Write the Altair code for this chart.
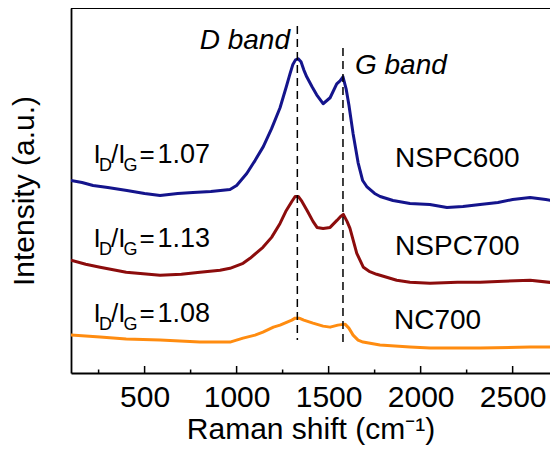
import altair as alt
import pandas as pd

# ---- spectra (x: Raman shift, y: intensity in arbitrary units) ----
nspc600_x = [100, 160, 220, 300, 404, 500, 584, 680, 763, 860, 964, 1000, 1055, 1100, 1145, 1190,
             1236, 1270, 1290, 1305, 1320, 1335, 1350, 1365, 1381, 1410, 1435, 1470, 1508, 1544,
             1562, 1578, 1595, 1610, 1633, 1660, 1685, 1707, 1750, 1780, 1850, 1942, 2050, 2143,
             2230, 2323, 2420, 2500, 2595, 2680, 2747]
nspc600_y = [193, 191, 188, 186, 183, 180, 178, 180, 181, 182, 184, 188, 200, 213, 227, 245,
             266, 287, 300, 309, 314, 315, 312, 304, 297, 287, 279, 270, 276, 290,
             293, 297, 285, 269, 240, 211, 193, 187, 180, 177, 173, 170, 169, 166,
             167, 169, 171, 174, 176, 174, 172]

nspc700_x = [100, 180, 258, 400, 584, 700, 801, 910, 964, 1035, 1073, 1143, 1190, 1236, 1270,
             1300, 1318, 1335, 1355, 1383, 1415, 1437, 1470, 1508, 1545, 1565, 1580, 1600, 1616,
             1653, 1689, 1720, 1761, 1870, 1942, 2051, 2200, 2323, 2450, 2595, 2747]
nspc700_y = [113, 109, 106, 101, 98, 99, 101, 103, 105, 110, 115, 126, 136, 150, 163,
             172, 177, 177, 172, 163, 152, 146, 145, 146, 153, 157, 159, 152, 145,
             120, 106, 102, 99, 93, 91, 90, 91, 91, 92, 93, 90]

nc700_x = [100, 258, 400, 584, 800, 910, 964, 1035, 1100, 1143, 1200, 1236, 1300, 1318, 1340,
           1365, 1415, 1470, 1508, 1550, 1589, 1610, 1633, 1660, 1687, 1779, 1942, 2051, 2323,
           2595, 2747]
nc700_y = [38, 36, 34, 33, 31, 31, 31, 35, 38, 41, 46, 48, 53, 55, 55,
           53, 50, 47, 46, 48, 49, 45, 38, 33, 31, 28, 26, 25, 25, 26, 26]

series_names = ["NSPC600", "NSPC700", "NC700"]
series_colors = ["#14148c", "#8c0c0c", "#ff8c10"]

# annotations
band_x = [1330, 1578]
band_top = [348, 326]
band_bottom = [33, 28]
band_labels = ["D band", "G band"]
band_label_x = [1290, 1643]
band_label_y = [325, 300]
band_label_align = ["right", "left"]

sample_label_x = [1861, 1861, 1855]
sample_label_y = [207, 118, 44]

ratio_values = ["1.07", "1.13", "1.08"]
ratio_x = [222, 222, 222]
ratio_y = [211, 126, 51]

major_ticks = [500, 1000, 1500, 2000, 2500]
minor_ticks = [250, 750, 1250, 1750, 2250]

X_DOMAIN = [100, 2703]
Y_DOMAIN = [0, 366]
W, H = 479, 365
FONT = "Liberation Sans"

rows = []
for name, xs_, ys_ in [("NSPC600", nspc600_x, nspc600_y),
                       ("NSPC700", nspc700_x, nspc700_y),
                       ("NC700", nc700_x, nc700_y)]:
    for a, b in zip(xs_, ys_):
        rows.append({"series": name, "v": a, "y": b})
spectra = pd.DataFrame(rows)

xs = alt.Scale(domain=X_DOMAIN, nice=False, zero=False)
ys = alt.Scale(domain=Y_DOMAIN, nice=False, zero=False)

x_axis = alt.Axis(values=major_ticks, format="d", ticks=False, tickSize=0, grid=False,
                  labelFontSize=30, labelPadding=9, labelColor="black",
                  labelFont=FONT, title="Raman shift (cm⁻¹)", titleFontSize=30,
                  titleFont=FONT, titleFontWeight="normal", titleColor="black",
                  titlePadding=2, domainColor="black", domainWidth=1.8)
y_axis = alt.Axis(labels=False, ticks=False, tickSize=0, grid=False,
                  title="Intensity (a.u.)", titleFontSize=30, titleFont=FONT,
                  titleFontWeight="normal", titleColor="black", titlePadding=32,
                  domainColor="black", domainWidth=1.8)


def X(field="v"):
    return alt.X(f"{field}:Q", scale=xs, axis=x_axis, title="Raman shift (cm⁻¹)")


def Y(field="y"):
    return alt.Y(f"{field}:Q", scale=ys, axis=y_axis, title="Intensity (a.u.)")


lines = alt.Chart(spectra).mark_line(strokeWidth=3, strokeJoin="round", clip=True).encode(
    x=X(), y=Y(),
    color=alt.Color("series:N", scale=alt.Scale(domain=series_names, range=series_colors),
                    legend=None),
    detail="series:N",
)

bands = pd.DataFrame({"v": band_x, "y": band_top, "y2": band_bottom})
dashes = alt.Chart(bands).mark_rule(color="black", strokeWidth=1.5, strokeDash=[8, 5]).encode(
    x=X(), y=Y(), y2="y2:Q",
)

band_txt_layers = []
for lab, bx, by, al in zip(band_labels, band_label_x, band_label_y, band_label_align):
    d = pd.DataFrame({"v": [bx], "y": [by], "t": [lab]})
    band_txt_layers.append(
        alt.Chart(d).mark_text(font=FONT, fontSize=28, fontStyle="italic", align=al,
                               baseline="alphabetic", color="black").encode(
            x=X(), y=Y(), text="t:N"))

samples = pd.DataFrame({"v": sample_label_x, "y": sample_label_y, "t": series_names})
sample_txt = alt.Chart(samples).mark_text(font=FONT, fontSize=28, align="left",
                                          baseline="alphabetic", color="black").encode(
    x=X(), y=Y(), text="t:N")

ratios = pd.DataFrame({"v": ratio_x, "y": ratio_y, "t": ratio_values})
pieces = [("I", 0, 0, 26), ("D", 5.5, 8, 18), ("/I", 17.5, 0, 26), ("G", 30, 8, 18),
          ("=", 46, 0, 26)]
ratio_layers = []
for txt, dx, dy, fs in pieces:
    ratio_layers.append(
        alt.Chart(ratios).mark_text(font=FONT, fontSize=fs, align="left", baseline="alphabetic",
                                    color="black", dx=dx, dy=dy).encode(
            x=X(), y=Y(), text=alt.value(txt)))
ratio_layers.append(
    alt.Chart(ratios).mark_text(font=FONT, fontSize=27, align="left", baseline="alphabetic",
                                color="black", dx=64).encode(
        x=X(), y=Y(), text="t:N"))

major = alt.Chart(pd.DataFrame({"v": major_ticks})).mark_rule(color="black", strokeWidth=1.5).encode(
    x=X(), y=alt.value(H), y2=alt.value(H - 7))
minor = alt.Chart(pd.DataFrame({"v": minor_ticks})).mark_rule(color="black", strokeWidth=1.5).encode(
    x=X(), y=alt.value(H), y2=alt.value(H - 3.5))

top_border = alt.Chart(pd.DataFrame({"v": [0]})).mark_rule(color="black", strokeWidth=1.8).encode(
    x=alt.value(0), x2=alt.value(W), y=alt.value(0))

chart = alt.layer(
    lines, dashes, *band_txt_layers, sample_txt, *ratio_layers, major, minor, top_border
).properties(
    width=W, height=H,
    autosize=alt.AutoSizeParams(type="none"),
    padding={"left": 63, "top": 0, "right": 0, "bottom": 76},
).configure_view(stroke=None).configure(font=FONT)

chart.save("out.html", embed_options={"renderer": "svg", "actions": False})
